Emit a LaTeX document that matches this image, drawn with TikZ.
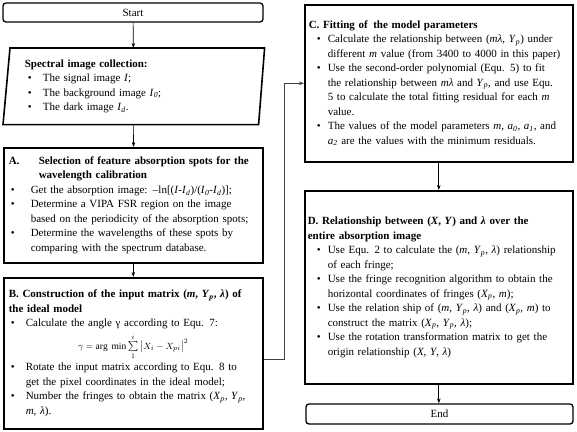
\documentclass[tikz,border=0pt]{standalone}
\usepackage{fontspec}
\setmainfont{Liberation Serif}
\usetikzlibrary{positioning,arrows.meta}

\newlength{\bulx}
\newlength{\txtx}
\newcommand{\bitem}{\par\noindent\hangindent=\txtx\hangafter=1\makebox[\txtx][l]{\hspace*{\bulx}\textbullet}\ignorespaces}
\newcommand{\vi}[1]{\textit{#1}}
\newcommand{\vsub}[2]{\textit{#1}\textsubscript{\textit{#2}}}

\begin{document}
\begin{tikzpicture}[x=1pt,y=-1pt,
				procbox/.style={draw,line width=1.6pt,align=left,inner xsep=5pt,inner ysep=0pt,anchor=north west,font=\fontsize{11}{14.5}\selectfont},
				termbox/.style={draw,line width=1.3pt,rounded corners=3pt,inner sep=0pt,font=\fontsize{11}{14.5}\selectfont},
				flowarrow/.style={-{Stealth[length=5pt,width=3.5pt]},line width=0.7pt}]
				\useasboundingbox (0,0) rectangle (577,431);
				\node[termbox,minimum width=260pt,minimum height=19pt] (start) at (133,12.5) {Start};
				\node[procbox,draw=none,minimum width=260pt,minimum height=75pt,inner xsep=21pt,text width=218pt] (spec) at (3,48) {%
					\setlength{\bulx}{3pt}\setlength{\txtx}{18pt}%
					\textbf{Spectral image collection:}
					\bitem The signal image \vi{I};
					\bitem The background image \vsub{I}{0};
					\bitem The dark image \vsub{I}{d}.\par};
				\draw[line width=1.6pt] ([xshift=7pt]spec.north west) -- (spec.north east) -- ([xshift=-6pt]spec.south east) -- (spec.south west) -- cycle;
				\node[procbox,text width=249pt,minimum height=115pt] (selA) at (3,147) {%
					\setlength{\bulx}{2pt}\setlength{\txtx}{22pt}%
					\noindent\hangindent=30pt\hangafter=1\makebox[30pt][l]{\textbf{A.}}\textbf{Selection of feature absorption spots for the}\newline \textbf{wavelength calibration}
					\bitem Get the absorption image: --ln[(\vi{I}-\vsub{I}{d})/(\vsub{I}{0}-\vsub{I}{d})];
					\bitem Determine a VIPA FSR region on the image\newline based on the periodicity of the absorption spots;
					\bitem Determine the wavelengths of these spots by\newline comparing with the spectrum database.\par};
				\node[procbox,text width=249pt,minimum height=151pt] (consB) at (3,277) {%
					\setlength{\bulx}{2pt}\setlength{\txtx}{17pt}%
					\textbf{B. Construction of the input matrix (\textit{m}, \textit{Y}\textsubscript{\textit{p}}, \textit{λ}) of}\newline \textbf{the ideal model}
					\bitem Calculate the angle γ according to Equ. 7:
					\par\vspace{4pt}\centerline{\fontsize{9.5}{10}\selectfont$\gamma=\mathrm{arg\ min}\sum\limits_{1}^{i}\left|X_{i}-X_{pi}\right|^{2}$}\vspace{3pt}
					\bitem Rotate the input matrix according to Equ. 8 to\newline get the pixel coordinates in the ideal model;
					\bitem Number the fringes to obtain the matrix (\vsub{X}{p}, \vsub{Y}{p},\newline \vi{m}, \vi{λ}).\par};
				\node[procbox,inner xsep=4pt,text width=260pt,minimum height=157pt] (fitC) at (304,4) {%
					\setlength{\bulx}{8pt}\setlength{\txtx}{19pt}%
					\textbf{C. Fitting of\, the model parameters}
					\bitem Calculate the relationship between (\vi{mλ}, \vsub{Y}{p}) under\newline different \vi{m} value (from 3400 to 4000 in this paper)
					\bitem Use the second-order polynomial (Equ. 5) to fit\newline the relationship between \vi{mλ} and \vsub{Y}{p}, and use Equ.\newline 5 to calculate the total fitting residual for each \vi{m}\newline value.
					\bitem The values of the model parameters \vi{m}, \vsub{a}{0}, \vsub{a}{1}, and\newline \vsub{a}{2} are the values with the minimum residuals.\par\vspace{20pt}};
				\node[procbox,inner xsep=3pt,text width=262pt,minimum height=193pt] (relD) at (304,190) {%
					\setlength{\bulx}{9pt}\setlength{\txtx}{20pt}%
					\textbf{D. Relationship between (\textit{X}, \textit{Y}) and \textit{λ} over the}\newline \textbf{entire absorption image}
					\bitem Use Equ. 2 to calculate the (\vi{m}, \vsub{Y}{p}, \vi{λ}) relationship\newline of each fringe;
					\bitem Use the fringe recognition algorithm to obtain the\newline horizontal coordinates of fringes (\vsub{X}{p}, \vi{m});
					\bitem Use the relation ship of (\vi{m}, \vsub{Y}{p}, \vi{λ}) and (\vsub{X}{p}, \vi{m}) to\newline construct the matrix (\vsub{X}{p}, \vsub{Y}{p}, \vi{λ});
					\bitem Use the rotation transformation matrix to get the\newline origin relationship (\vi{X}, \vi{Y}, \vi{λ})\par};
				\node[termbox,minimum width=267pt,minimum height=20pt] (endN) at (439.5,414) {End};
				\draw[flowarrow] (start) -- (spec);
				\draw[flowarrow] (spec) -- (selA);
				\draw[flowarrow] (selA) -- (consB);
				\draw[flowarrow,black!75] ([yshift=-6pt]consB.east) -- ++(21,0) |- (fitC.west);
				\draw[flowarrow] (fitC) -- (relD);
				\draw[flowarrow] (relD.south) -- (relD.south |- endN.north);
			\end{tikzpicture}
\end{document}
